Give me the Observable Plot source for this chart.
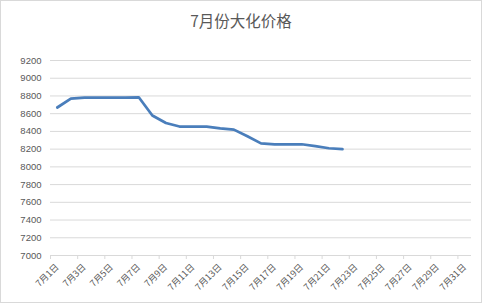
<!DOCTYPE html>
<html>
<head>
<meta charset="utf-8">
<script src="https://cdn.jsdelivr.net/npm/d3@7"></script>
<script src="https://cdn.jsdelivr.net/npm/@observablehq/plot@0.6"></script>
<style>
  html, body { margin: 0; padding: 0; background: #fff; }
  #wrap { position: relative; width: 482px; height: 303px; overflow: hidden; background: #fff;
          font-family: "Noto Sans CJK SC", "Liberation Sans", sans-serif; }
  #title { position: absolute; left: 0; top: 8px; width: 482px; text-align: center;
           font-size: 15.5px; line-height: 24px; color: #595959; }
  #plot { position: absolute; left: 0; top: 40px; }
  #border { position: absolute; left: 0; top: 0; width: 480px; height: 301px;
            border: 1px solid #d9d9d9; pointer-events: none; }
</style>
</head>
<body>
<div id="wrap">
  <div id="title">7月份大化价格</div>
  <div id="plot"></div>
  <div id="border"></div>
</div>
<script>
const title = "7月份大化价格";
const days = ["7月1日","7月2日","7月3日","7月4日","7月5日","7月6日","7月7日","7月8日","7月9日","7月10日",
  "7月11日","7月12日","7月13日","7月14日","7月15日","7月16日","7月17日","7月18日","7月19日","7月20日",
  "7月21日","7月22日","7月23日","7月24日","7月25日","7月26日","7月27日","7月28日","7月29日","7月30日","7月31日"];
const prices = [8670, 8770, 8780, 8780, 8780, 8780, 8785, 8580, 8495, 8455, 8455, 8455, 8435, 8420, 8345,
  8265, 8255, 8255, 8255, 8235, 8210, 8200];
const yTicks = [7000, 7200, 7400, 7600, 7800, 8000, 8200, 8400, 8600, 8800, 9000, 9200];

const data = prices.map((p, i) => ({idx: i + 1, day: days[i], price: p}));
const labelTicks = days.map((d, i) => i + 1).filter(i => i % 2 === 1);
const boundaryTicks = days.map((d, i) => i + 0.5).filter((v, i) => i % 2 === 0);

const chart = Plot.plot({
  width: 482,
  height: 263,
  marginTop: 20,
  marginRight: 11,
  marginBottom: 48,
  marginLeft: 50,
  style: {fontFamily: "'Liberation Sans', 'Noto Sans CJK SC', sans-serif", fontSize: "9.5px", color: "#595959", background: "transparent"},
  x: {domain: [0.5, days.length + 0.5], axis: null},
  y: {domain: [yTicks[0], yTicks[yTicks.length - 1]], axis: null},
  marks: [
    Plot.gridY(yTicks, {stroke: "#d9d9d9", strokeOpacity: 1, strokeWidth: 1}),
    Plot.axisY(yTicks, {tickSize: 0, tickPadding: 9, label: null, tickFormat: d => String(d), fill: "#595959"}),
    Plot.axisX(boundaryTicks, {tickSize: 4, tickFormat: () => "", stroke: "#d9d9d9", strokeOpacity: 1, label: null}),
    Plot.axisX(labelTicks, {tickSize: 0, tickPadding: 10, tickRotate: -45, tickFormat: i => days[i - 1], label: null,
      fill: "#595959", fontFamily: "'Noto Sans CJK SC', sans-serif", fontSize: 9}),
    Plot.lineY(data, {x: "idx", y: "price", stroke: "#4a7ebb", strokeWidth: 2.75, strokeLinejoin: "round", strokeLinecap: "round"})
  ]
});
document.getElementById("plot").appendChild(chart);
</script>
</body>
</html>
